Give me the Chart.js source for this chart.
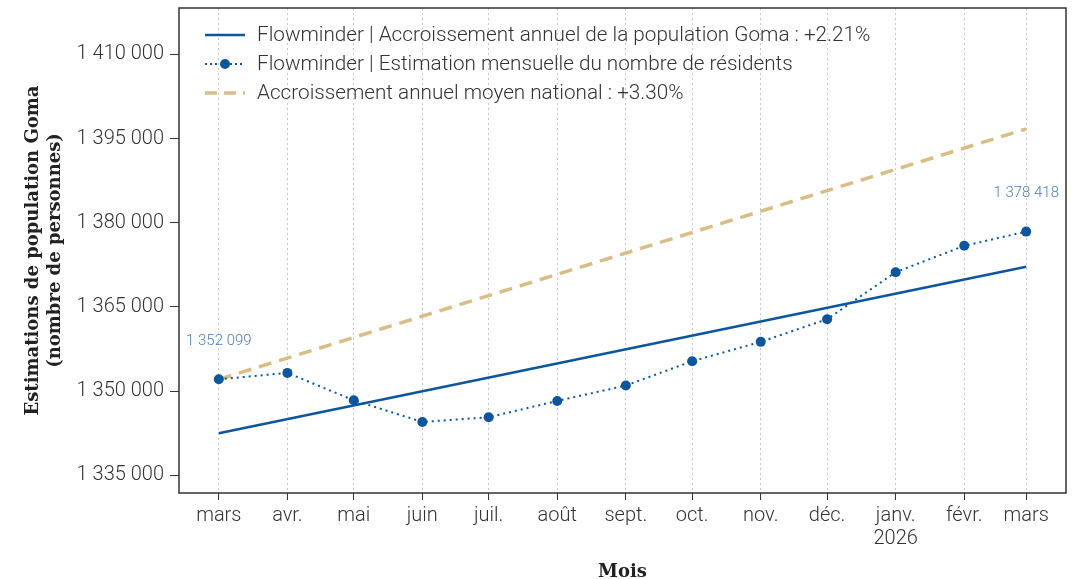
<!DOCTYPE html>
<html>
<head>
<meta charset="utf-8">
<script src="https://cdn.jsdelivr.net/npm/chart.js@4"></script>
<style>
  html, body { margin: 0; padding: 0; background: #fff; }
  #wrap { width: 1074px; height: 579px; }
</style>
</head>
<body>
<div id="wrap"><canvas id="myChart" width="1074" height="579"></canvas></div>
<script>
// months from mars 2025 to mars 2026, as day offsets from 1 March 2025
const monthLabels = ['mars', 'avr.', 'mai', 'juin', 'juil.', 'août', 'sept.', 'oct.', 'nov.', 'déc.', ['janv.', '2026'], 'févr.', 'mars'];
const monthDays = [0, 31, 61, 92, 122, 153, 184, 214, 245, 275, 306, 337, 365];
const monthlyEstimate = [1352099, 1353240, 1348370, 1344500, 1345340, 1348250, 1351000, 1355320, 1358770, 1362810, 1371190, 1375880, 1378418];
const trendDays = [0, 365];
const trendGoma = [1342500, 1372170];
const trendNational = [1352099, 1396718];
const yTicks = [1335000, 1350000, 1365000, 1380000, 1395000, 1410000];

const legendLabels = [
    'Flowminder | Accroissement annuel de la population Goma : +2.21%',
    'Flowminder | Estimation mensuelle du nombre de résidents',
    'Accroissement annuel moyen national : +3.30%'
];

const blue = '#0d559c';
const tan = '#d9bd86';

function fmt(v) {
    return String(Math.round(v)).replace(/\B(?=(\d{3})+(?!\d))/g, ' ');
}

function pts(xs, ys) {
    return xs.map((x, i) => ({ x: x, y: ys[i] }));
}

const frame = {
    id: 'frame',
    afterDatasetsDraw(chart) {
        const a = chart.chartArea;
        const c = chart.ctx;
        c.save();
        c.strokeStyle = '#333';
        c.lineWidth = 1.5;
        c.strokeRect(a.left, a.top, a.right - a.left, a.bottom - a.top);

        // value labels on first and last monthly points
        const meta = chart.getDatasetMeta(1);
        c.fillStyle = '#4a80b8';
        c.font = '300 15px Roboto';
        c.textAlign = 'center';
        c.textBaseline = 'middle';
        [0, meta.data.length - 1].forEach(i => {
            const p = meta.data[i];
            c.fillText(fmt(monthlyEstimate[i]), p.x, p.y - 38);
        });

        // legend
        const x0 = a.left + 26, x1 = a.left + 66, tx = a.left + 78;
        const rows = [a.top + 27, a.top + 56, a.top + 85];
        c.font = '300 20.7px Roboto';
        c.textAlign = 'left';
        c.fillStyle = '#333';
        rows.forEach((y, i) => {
            c.beginPath();
            if (i === 0) { c.strokeStyle = blue; c.lineWidth = 2.5; c.setLineDash([]); }
            if (i === 1) { c.strokeStyle = blue; c.lineWidth = 2; c.setLineDash([2, 3]); }
            if (i === 2) { c.strokeStyle = tan; c.lineWidth = 3.5; c.setLineDash([12, 7]); }
            c.moveTo(x0, y);
            c.lineTo(x1, y);
            c.stroke();
            if (i === 1) {
                c.setLineDash([]);
                c.fillStyle = blue;
                c.beginPath();
                c.arc((x0 + x1) / 2, y, 5, 0, Math.PI * 2);
                c.fill();
                c.fillStyle = '#333';
            }
            c.fillText(legendLabels[i], tx, y + 1);
        });
        c.restore();
    }
};

const ctx = document.getElementById('myChart').getContext('2d');

new Chart(ctx, {
    type: 'line',
    data: {
        datasets: [{
            label: legendLabels[0],
            data: pts(trendDays, trendGoma),
            borderColor: blue,
            borderWidth: 2.5,
            pointRadius: 0,
            order: 2
        }, {
            label: legendLabels[1],
            data: pts(monthDays, monthlyEstimate),
            borderColor: blue,
            backgroundColor: blue,
            borderWidth: 2,
            borderDash: [2, 4],
            pointRadius: 5,
            pointBorderWidth: 0,
            order: 1
        }, {
            label: legendLabels[2],
            data: pts(trendDays, trendNational),
            borderColor: tan,
            borderWidth: 3.5,
            borderDash: [13, 8],
            pointRadius: 0,
            order: 3
        }]
    },
    options: {
        responsive: false,
        animation: false,
        layout: { padding: { top: 8, right: 8, left: 0, bottom: 0 } },
        plugins: {
            legend: { display: false },
            tooltip: { enabled: false }
        },
        scales: {
            x: {
                type: 'linear',
                min: -18,
                max: 383,
                afterBuildTicks: (scale) => {
                    scale.ticks = monthDays.map(d => ({ value: d }));
                },
                afterFit: (scale) => { scale.height = 86; },
                ticks: {
                    autoSkip: false,
                    maxRotation: 0,
                    padding: 4,
                    color: '#333',
                    font: { family: 'Roboto', size: 20, weight: '300', lineHeight: 1.15 },
                    callback: (v) => {
                        const i = monthDays.indexOf(v);
                        return i >= 0 ? monthLabels[i] : '';
                    }
                },
                grid: {
                    color: '#c8c8c8',
                    lineWidth: 1,
                    tickBorderDash: [],
                    tickColor: '#333',
                    tickLength: 7
                },
                border: { display: false, dash: [2, 3] },
                title: {
                    display: true,
                    text: 'Mois',
                    color: '#222',
                    font: { family: 'DejaVu Serif', size: 18, weight: 'bold' },
                    padding: { top: 4, bottom: -4 }
                }
            },
            y: {
                min: 1331844,
                max: 1418255,
                afterBuildTicks: (scale) => {
                    scale.ticks = yTicks.map(v => ({ value: v }));
                },
                afterFit: (scale) => {
                    scale.width = 179;
                    scale.paddingTop = 0;
                    scale.paddingBottom = 0;
                },
                ticks: {
                    padding: 6,
                    color: '#333',
                    font: { family: 'Roboto', size: 20, weight: '300' },
                    callback: (v) => fmt(v)
                },
                grid: {
                    drawOnChartArea: false,
                    tickColor: '#333',
                    tickLength: 9
                },
                border: { display: false },
                title: {
                    display: true,
                    text: ['Estimations de population Goma', '(nombre de personnes)'],
                    color: '#222',
                    font: { family: 'DejaVu Serif', size: 18, weight: 'bold', lineHeight: 1.2 },
                    padding: { top: 23, bottom: 6 }
                }
            }
        }
    },
    plugins: [frame]
});
</script>
</body>
</html>
